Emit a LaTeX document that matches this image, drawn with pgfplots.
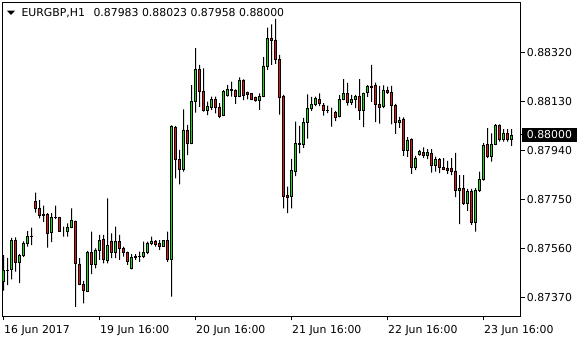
\documentclass[border=0pt]{standalone}
\usepackage{fontspec}
\setmainfont{DejaVu Sans}
\usepackage{pgfplots}
\pgfplotsset{compat=1.18}
\usepackage{pgfplotstable}
\definecolor{bull}{RGB}{20,220,20}
\definecolor{bear}{RGB}{225,20,20}
\pgfplotstableread{
i o h l c
0 0.87432 0.87535 0.87397 0.87477
1 0.87477 0.87524 0.87419 0.87475
2 0.87480 0.87602 0.87441 0.87593
3 0.87593 0.87604 0.87471 0.87509
4 0.87506 0.87539 0.87426 0.87533
5 0.87534 0.87588 0.87528 0.87581
6 0.87581 0.87628 0.87568 0.87609
7 0.87609 0.87641 0.87574 0.87606
8 0.87742 0.87777 0.87699 0.87716
9 0.87716 0.87748 0.87677 0.87689
10 0.87689 0.87726 0.87664 0.87693
11 0.87694 0.87697 0.87564 0.87619
12 0.87623 0.87697 0.87585 0.87681
13 0.87681 0.87726 0.87674 0.87680
14 0.87681 0.87683 0.87628 0.87629
15 0.87629 0.87645 0.87606 0.87629
16 0.87626 0.87658 0.87606 0.87643
17 0.87643 0.87716 0.87639 0.87671
18 0.87666 0.87668 0.87335 0.87503
19 0.87501 0.87523 0.87419 0.87422
20 0.87422 0.87435 0.87348 0.87400
21 0.87396 0.87551 0.87393 0.87544
22 0.87544 0.87626 0.87461 0.87499
23 0.87499 0.87561 0.87484 0.87555
24 0.87552 0.87613 0.87516 0.87593
25 0.87597 0.87613 0.87503 0.87519
26 0.87513 0.87755 0.87503 0.87574
27 0.87590 0.87619 0.87523 0.87544
28 0.87544 0.87645 0.87523 0.87587
29 0.87587 0.87613 0.87516 0.87561
30 0.87561 0.87568 0.87529 0.87544
31 0.87546 0.87548 0.87497 0.87512
32 0.87484 0.87539 0.87480 0.87527
33 0.87527 0.87539 0.87516 0.87529
34 0.87529 0.87548 0.87509 0.87530
35 0.87529 0.87587 0.87523 0.87546
36 0.87546 0.87587 0.87539 0.87581
37 0.87581 0.87606 0.87574 0.87590
38 0.87590 0.87593 0.87568 0.87577
39 0.87581 0.87593 0.87555 0.87570
40 0.87570 0.87593 0.87568 0.87591
41 0.87591 0.87626 0.87509 0.87519
42 0.87519 0.88037 0.87374 0.88035
43 0.88030 0.88035 0.87832 0.87906
44 0.87906 0.87942 0.87809 0.87867
45 0.87867 0.88099 0.87858 0.88019
46 0.88019 0.88039 0.87922 0.87968
47 0.87968 0.88193 0.87965 0.88132
48 0.88132 0.88336 0.88086 0.88254
49 0.88254 0.88271 0.88109 0.88171
50 0.88171 0.88258 0.88090 0.88097
51 0.88097 0.88129 0.88077 0.88112
52 0.88109 0.88148 0.88097 0.88139
53 0.88139 0.88148 0.88084 0.88109
54 0.88109 0.88123 0.88065 0.88073
55 0.88075 0.88174 0.88073 0.88170
56 0.88154 0.88193 0.88148 0.88178
57 0.88176 0.88206 0.88148 0.88174
58 0.88174 0.88176 0.88120 0.88148
59 0.88148 0.88223 0.88146 0.88213
60 0.88213 0.88215 0.88135 0.88155
61 0.88164 0.88168 0.88138 0.88157
62 0.88161 0.88162 0.88135 0.88139
63 0.88144 0.88148 0.88129 0.88135
64 0.88135 0.88161 0.88097 0.88151
65 0.88148 0.88301 0.88146 0.88267
66 0.88264 0.88416 0.88252 0.88375
67 0.88375 0.88428 0.88271 0.88366
68 0.88368 0.88449 0.88275 0.88293
69 0.88293 0.88310 0.88079 0.88146
70 0.88151 0.88155 0.87716 0.87761
71 0.87766 0.87800 0.87697 0.87757
72 0.87761 0.87907 0.87716 0.87864
73 0.87861 0.88052 0.87841 0.87968
74 0.87966 0.88035 0.87929 0.87965
75 0.87964 0.88066 0.87950 0.88049
76 0.88048 0.88157 0.87986 0.88103
77 0.88103 0.88147 0.88093 0.88119
78 0.88119 0.88148 0.88112 0.88142
79 0.88138 0.88161 0.88112 0.88122
80 0.88116 0.88123 0.88075 0.88097
81 0.88096 0.88114 0.88085 0.88095
82 0.88095 0.88106 0.88032 0.88095
83 0.88087 0.88093 0.88054 0.88068
84 0.88071 0.88155 0.88068 0.88138
85 0.88138 0.88216 0.88135 0.88161
86 0.88161 0.88202 0.88114 0.88126
87 0.88126 0.88155 0.88116 0.88138
88 0.88138 0.88155 0.88104 0.88148
89 0.88149 0.88216 0.88058 0.88096
90 0.88097 0.88164 0.88030 0.88161
91 0.88164 0.88193 0.88147 0.88190
92 0.88190 0.88271 0.88128 0.88186
93 0.88192 0.88203 0.88050 0.88119
94 0.88119 0.88190 0.88044 0.88109
95 0.88110 0.88192 0.88104 0.88174
96 0.88174 0.88187 0.88159 0.88164
97 0.88165 0.88190 0.88041 0.88116
98 0.88114 0.88120 0.88004 0.88048
99 0.88049 0.88070 0.88027 0.88056
100 0.88062 0.88068 0.87919 0.87939
101 0.87940 0.87992 0.87915 0.87981
102 0.87983 0.87987 0.87849 0.87875
103 0.87875 0.87919 0.87864 0.87910
104 0.87926 0.87942 0.87920 0.87935
105 0.87933 0.87952 0.87910 0.87920
106 0.87920 0.87945 0.87906 0.87933
107 0.87929 0.87945 0.87854 0.87884
108 0.87884 0.87916 0.87858 0.87906
109 0.87906 0.87910 0.87852 0.87875
110 0.87875 0.87910 0.87864 0.87867
111 0.87871 0.87900 0.87849 0.87864
112 0.87871 0.87910 0.87845 0.87861
113 0.87861 0.87931 0.87759 0.87787
114 0.87787 0.87845 0.87655 0.87794
115 0.87794 0.87845 0.87729 0.87736
116 0.87736 0.87791 0.87706 0.87783
117 0.87783 0.87791 0.87652 0.87662
118 0.87662 0.87794 0.87626 0.87787
119 0.87787 0.87858 0.87780 0.87828
120 0.87828 0.87968 0.87823 0.87961
121 0.87965 0.88026 0.87910 0.87916
122 0.87919 0.88006 0.87897 0.87965
123 0.87965 0.88042 0.87961 0.88036
124 0.88036 0.88041 0.87974 0.87984
125 0.87984 0.88023 0.87974 0.88006
126 0.88006 0.88023 0.87974 0.87984
127 0.87983 0.88023 0.87958 0.88000
}\candles

\begin{document}
\begin{tikzpicture}
\useasboundingbox (0pt,0pt) rectangle (580pt,340pt);
\pgfplotsset{candle axis/.style={
  scale only axis, width=518pt, height=313.5pt,
  at={(2.5pt,24pt)}, anchor=south west,
  xmin=-0.25, xmax=129.25, ymin=0.002992, ymax=0.015128,
  ybar stacked}}
\begin{axis}[candle axis, bar width=1pt,
  axis line style={line width=1pt, black},
  xtick={0,24,48,72,96,120},
  xticklabels={16 Jun 2017,19 Jun 16:00,20 Jun 16:00,21 Jun 16:00,22 Jun 16:00,23 Jun 16:00},
  ytick={0.0037,0.0056,0.0075,0.0094,0.0113,0.0132},
  yticklabels={0.87370,0.87560,0.87750,0.87940,0.88130,0.88320},
  xtick pos=bottom, ytick pos=right, yticklabel pos=right,
  tick align=outside, major tick length=4pt,
  tick style={black, line width=1pt},
  ticklabel style={font=\fontsize{10.9}{13}\selectfont},
  xticklabel style={anchor=base west, inner sep=0pt, xshift=0.5pt, yshift=-13.5pt},
  yticklabel style={anchor=west, inner sep=0pt, xshift=2.2pt},
  extra y ticks={0.01}, extra y tick labels={0.88000},
  extra y tick style={yticklabel style={fill=black, text=white, inner xsep=5pt, inner ysep=2.7pt, xshift=-5pt}},
  ]
\addplot[draw=none, fill=none] table[x=i, y expr=\thisrow{l}-0.87]{\candles};
\addplot[draw=none, fill=black] table[x=i, y expr=\thisrow{h}-\thisrow{l}]{\candles};
\end{axis}
\begin{axis}[candle axis, hide axis, bar width=2.5pt]
\addplot[draw=none, fill=none] table[x=i, y expr={min(\thisrow{o},\thisrow{c})-0.87}]{\candles};
\addplot[draw=black, line width=0.55pt, fill=bull] table[x=i, y expr={max(\thisrow{c}-\thisrow{o},0)}]{\candles};
\addplot[draw=black, line width=0.55pt, fill=bear] table[x=i, y expr={max(\thisrow{o}-\thisrow{c},0)}]{\candles};
\end{axis}
\fill (7pt,329.3pt) -- (15pt,329.3pt) -- (11pt,325pt) -- cycle;
\node[anchor=base west, inner sep=0pt, font=\fontsize{10.9}{13}\selectfont] at (21.3pt,323.3pt) {EURGBP,H1\hspace{8.5pt}0.87983 0.88023 0.87958 0.88000};
\end{tikzpicture}
\end{document}
